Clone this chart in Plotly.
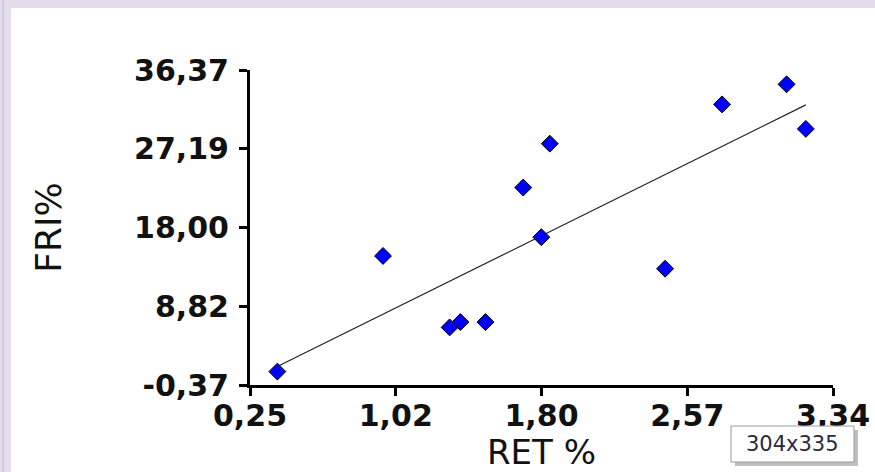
import numpy as np
import plotly.graph_objects as go

# ---- data ----
ret_pct = [0.395, 0.955, 1.308, 1.365, 1.498, 1.698, 1.794, 1.839, 2.450, 2.752, 3.094, 3.196]
fri_pct = [1.19, 14.68, 6.35, 6.97, 6.97, 22.66, 16.87, 27.78, 13.19, 32.36, 34.70, 29.50]

x_tickvals = [0.25, 1.0225, 1.795, 2.5675, 3.34]
x_ticktext = ["0,25", "1,02", "1,80", "2,57", "3,34"]
y_tickvals = [-0.37, 8.815, 18.0, 27.185, 36.37]
y_ticktext = ["-0,37", "8,82", "18,00", "27,19", "36,37"]

x_title = "RET %"
y_title = "FRI%"
badge_text = "304x335"

# ---- layout geometry (pixels) ----
W, H = 875, 472
L, R, T, B = 250, 875 - 833, 70, 472 - 385
PW, PH = W - L - R, H - T - B


def px(xp):
    return (xp - L) / PW


def py(yp):
    return (H - B - yp) / PH


# regression line
slope, intercept = np.polyfit(ret_pct, fri_pct, 1)
xl = np.array([min(ret_pct), max(ret_pct)])
yl = slope * xl + intercept

fig = go.Figure()
fig.add_trace(go.Scatter(
    x=xl, y=yl, mode="lines",
    line=dict(color="#222222", width=1.2),
    hoverinfo="skip", showlegend=False,
))
fig.add_trace(go.Scatter(
    x=ret_pct, y=fri_pct, mode="markers",
    marker=dict(symbol="diamond", size=13, color="#0000ff",
                line=dict(color="#000000", width=1)),
    showlegend=False,
))

tickfont = dict(family="DejaVu Sans", size=30, color="#111111", weight="bold")

fig.update_xaxes(
    range=[0.25, 3.34], tickvals=x_tickvals, ticktext=x_ticktext,
    showgrid=False, zeroline=False,
    showline=True, linecolor="#000000", linewidth=3,
    ticks="outside", ticklen=8, tickwidth=3, tickcolor="#000000",
    tickfont=tickfont, ticklabelstandoff=-6,
    title=dict(text=x_title, font=dict(family="DejaVu Sans", size=34, color="#111111"), standoff=18),
    automargin=False,
)
fig.update_yaxes(
    range=[-0.37, 36.37], tickvals=y_tickvals, ticktext=y_ticktext,
    showgrid=False, zeroline=False,
    showline=True, linecolor="#000000", linewidth=3,
    ticks="outside", ticklen=8, tickwidth=3, tickcolor="#000000",
    tickfont=tickfont, ticklabelstandoff=4,
    title=dict(text=y_title, font=dict(family="DejaVu Sans", size=36, color="#111111"), standoff=62),
    automargin=False,
)

lav = "#e3ddec"
shapes = [
    # window frame (top and left bands)
    dict(type="rect", xref="paper", yref="paper", x0=px(0), x1=px(W), y0=py(0), y1=py(8),
         fillcolor=lav, line=dict(width=0), layer="below"),
    dict(type="rect", xref="paper", yref="paper", x0=px(0), x1=px(11), y0=py(0), y1=py(H),
         fillcolor=lav, line=dict(width=0), layer="below"),
    dict(type="rect", xref="paper", yref="paper", x0=px(2), x1=px(4), y0=py(0), y1=py(H),
         fillcolor="#d3cbe2", line=dict(width=0), layer="below"),
    # size badge shadow and box
    dict(type="rect", xref="paper", yref="paper", x0=px(735), x1=px(858), y0=py(430), y1=py(466),
         fillcolor="rgba(0,0,0,0.25)", line=dict(width=0), layer="above"),
    dict(type="rect", xref="paper", yref="paper", x0=px(731), x1=px(854), y0=py(426), y1=py(462),
         fillcolor="#ffffff", line=dict(color="#9a9a9a", width=1), layer="above"),
]

fig.update_layout(
    width=W, height=H,
    margin=dict(l=L, r=R, t=T, b=B, autoexpand=False),
    paper_bgcolor="#ffffff", plot_bgcolor="#ffffff",
    shapes=shapes,
    annotations=[dict(
        text=badge_text, xref="paper", yref="paper",
        x=px(792.5), y=py(444), xanchor="center", yanchor="middle",
        showarrow=False, font=dict(family="DejaVu Sans", size=21, color="#2a2a3a"),
    )],
)

fig.write_html(
    "out.html",
    config={"displayModeBar": False},
    post_script="document.body.style.margin='0';document.body.style.overflow='hidden';",
)
